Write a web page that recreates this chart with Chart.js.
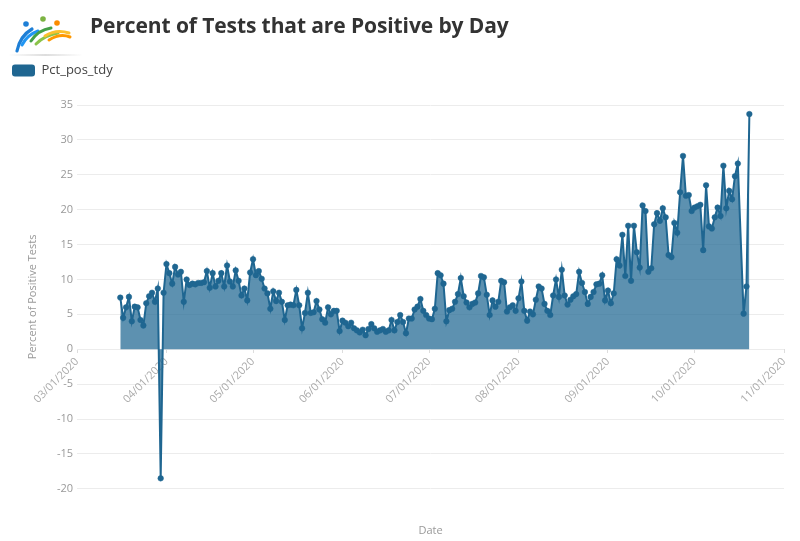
<!DOCTYPE html>
<html>
<head>
<meta charset="utf-8">
<script src="https://cdn.jsdelivr.net/npm/chart.js@4.4.1/dist/chart.umd.min.js"></script>
<style>
  html, body { margin: 0; padding: 0; background: #fff; }
  #wrap { position: relative; width: 800px; height: 541px; overflow: hidden; }
  canvas { position: absolute; left: 0; top: 0; }
  #logo { position: absolute; left: 0; top: 0; }
  #title { position: absolute; left: 90px; top: 11px; font-family: 'Open Sans', sans-serif; font-weight: 700;
           font-size: 21px; color: #333; white-space: nowrap; letter-spacing: -0.1px; }
</style>
</head>
<body>
<div id="wrap">
  <canvas id="c" width="800" height="541"></canvas>
  <svg id="logo" width="90" height="60" viewBox="0 0 90 60">
    <defs>
      <linearGradient id="sh" x1="0" x2="1" y1="0" y2="0">
        <stop offset="0" stop-color="#ddd" stop-opacity="0"/>
        <stop offset="0.5" stop-color="#ddd" stop-opacity="1"/>
        <stop offset="1" stop-color="#ddd" stop-opacity="0"/>
      </linearGradient>
    </defs>
    <path d="M17 51 Q20 36 32 29" stroke="#1e7fd6" stroke-width="3.2" fill="none" stroke-linecap="round"/>
    <path d="M22 45 Q27 35 38 31" stroke="#2196f3" stroke-width="3" fill="none" stroke-linecap="round"/>
    <circle cx="26" cy="24" r="2.8" fill="#1e7fd6"/>
    <path d="M31 41 Q38 30 51 28" stroke="#43a047" stroke-width="3" fill="none" stroke-linecap="round"/>
    <path d="M36 44 Q45 35 58 33" stroke="#8bc34a" stroke-width="3" fill="none" stroke-linecap="round"/>
    <circle cx="43" cy="19" r="2.8" fill="#7cb342"/>
    <path d="M45 36 Q56 29 69 33" stroke="#fbc02d" stroke-width="3" fill="none" stroke-linecap="round"/>
    <path d="M49 40 Q60 33 70 37" stroke="#ff9800" stroke-width="3" fill="none" stroke-linecap="round"/>
    <circle cx="57" cy="23" r="2.8" fill="#fb8c00"/>
    <rect x="8" y="54" width="75" height="2" fill="url(#sh)"/>
  </svg>
  <div id="title">Percent of Tests that are Positive by Day</div>
</div>
<script>
// ---- data ----
const seriesName = 'Pct_pos_tdy';
const axisTitleY = 'Percent of Positive Tests';
const axisTitleX = 'Date';
// first value is for 03/16/2020 (15 days after 03/01/2020); one value per day; null = no report
const firstDay = 15;
const pctPos = [
  7.4, 4.5, 6.0, 7.5, 4.0, 6.1, 6.0, 4.2, 3.4, 6.6, 7.6, 8.1, 6.8, 8.7, -18.5, 8.1,   // 03/16 - 03/31
  12.2, 10.9, 9.4, 11.8, 10.7, 11.1, 6.8, 10.0, 9.2, 9.4, 9.3, 9.5, 9.5, 9.6, 11.2,    // 04/01 - 04/15
  8.8, 10.9, 9.0, 9.8, 10.9, 9.0, 12.0, 9.7, 9.0, 11.3, 9.8, 7.7, 8.7, 7.0, 11.0,      // 04/16 - 04/30
  12.9, 10.6, 11.2, 10.1, 8.7, 8.0, 5.8, 8.3, 6.9, 8.1, 6.8, 4.2, 6.3, 6.4, 6.3, 8.5,  // 05/01 - 05/16
  6.3, 3.0, 5.2, 8.1, 5.2, 5.3, 6.9, 5.7, 4.3, 3.8, 6.0, 5.0, 5.5, 5.5, 2.6,           // 05/17 - 05/31
  4.1, 3.8, 3.3, 3.8, 3.0, 2.7, 2.4, 2.8, 2.0, 2.9, 3.6, 3.0, 2.5, 2.7, 2.9,           // 06/01 - 06/15
  2.5, 2.7, 4.2, 2.7, 3.9, 4.9, 3.9, 2.3, 4.4, 4.4, 5.7, 6.1, 7.2, 5.5, 4.9,           // 06/16 - 06/30
  4.4, 4.3, 5.8, 10.9, 10.6, 9.4, 4.0, 5.6, 5.8, 6.8, 7.9, 10.2, 7.6, 6.7, 6.0, 6.5,  // 07/01 - 07/16
  6.7, 8.0, 10.5, 10.3, 7.8, 4.9, 7.0, 6.1, 6.8, 9.8, 9.6, 5.4, 6.0, 6.3, 5.5,         // 07/17 - 07/31
  7.3, 9.7, 5.5, 4.1, 5.4, 5.0, 7.1, 9.0, 8.7, 6.5, 5.5, 4.9, 7.7, 10.0, 7.5, 11.4,    // 08/01 - 08/16
  7.7, 6.4, 7.1, 7.6, 7.9, 11.1, 9.5, 8.2, 6.5, 7.5, 8.2, 9.3, 9.4, 10.6, 7.0,         // 08/17 - 08/31
  8.4, 6.6, 8.0, 12.9, 12.0, 16.4, 10.5, 17.7, 9.8, 17.7, 13.9, 11.7, 20.6, 19.8, 11.1, // 09/01 - 09/15
  11.6, 17.9, 19.5, 18.4, 20.2, 18.9, 13.5, 13.2, 18.1, 16.7, 22.5, 27.7, 22.0, 22.1, 19.8, // 09/16 - 09/30
  20.3, 20.5, 20.7, 14.2, 23.5, 17.6, 17.3, 18.9, 20.3, 19.1, 26.3, 20.2, 22.7, 21.5, 24.8, 26.6, // 10/01 - 10/16
  null, 5.1, 9.0, 33.7                                                                  // 10/17 - 10/20
];
// x tick positions (days after 03/01/2020) and their labels
const monthTickDays = [0, 31, 61, 92, 122, 153, 184, 214, 245];
const monthTickLabels = ['03/01/2020', '04/01/2020', '05/01/2020', '06/01/2020', '07/01/2020',
                         '08/01/2020', '09/01/2020', '10/01/2020', '11/01/2020'];
const yMin = -20, yMax = 35, yStep = 5;

// ---- chart ----
const lineColor = '#1f6691';
const fillColor = 'rgba(31,102,145,0.72)';
const points = pctPos.map((v, i) => ({ x: firstDay + i, y: v })).filter(p => p.y !== null);

const legendSpace = {
  id: 'legendSpace',
  beforeInit(chart) {
    const origFit = chart.legend.fit;
    chart.legend.fit = function () { origFit.call(this); this.height += 18; };
  }
};

Chart.defaults.font.family = "'Open Sans', sans-serif";

new Chart(document.getElementById('c'), {
  type: 'line',
  data: {
    datasets: [{
      label: seriesName,
      data: points,
      borderColor: lineColor,
      backgroundColor: fillColor,
      fill: 'origin',
      borderWidth: 2,
      tension: 0,
      pointRadius: 2.8,
      pointBackgroundColor: lineColor,
      pointBorderColor: lineColor,
      pointBorderWidth: 0.5
    }]
  },
  options: {
    responsive: false,
    animation: false,
    layout: { padding: { top: 54, left: 2, right: 16, bottom: 0 } },
    plugins: {
      legend: {
        position: 'top',
        align: 'start',
        labels: {
          boxWidth: 23, boxHeight: 12, padding: 10, useBorderRadius: true, borderRadius: 3,
          color: '#444', font: { size: 13 },
          generateLabels(chart) {
            const items = Chart.defaults.plugins.legend.labels.generateLabels(chart);
            items.forEach(it => { it.fillStyle = lineColor; it.strokeStyle = lineColor; it.lineWidth = 0; });
            return items;
          }
        }
      },
      subtitle: {
        display: true, text: axisTitleX, position: 'bottom', fullSize: false,
        color: '#999', font: { size: 11, weight: 'normal' }, padding: { top: 35, bottom: 4 }
      },
      tooltip: { enabled: false }
    },
    scales: {
      x: {
        type: 'linear',
        min: monthTickDays[0],
        max: monthTickDays[monthTickDays.length - 1],
        position: { y: 0 },
        afterBuildTicks(scale) { scale.ticks = monthTickDays.map(v => ({ value: v })); },
        afterFit(scale) { scale.height = 0; },
        grid: { drawOnChartArea: false, drawTicks: true, tickLength: 4, color: '#ddd' },
        border: { display: false },
        ticks: {
          autoSkip: false, maxRotation: 45, minRotation: 45, color: '#aaa', font: { size: 11 }, padding: 2,
          callback(v) { const i = monthTickDays.indexOf(v); return i >= 0 ? monthTickLabels[i] : ''; }
        }
      },
      y: {
        min: yMin, max: yMax,
        afterFit(scale) { scale.width = 75; },
        grid: { color: '#ececec', drawTicks: false },
        border: { display: false },
        ticks: { stepSize: yStep, color: '#999', font: { size: 11 }, padding: 4 },
        title: { display: true, text: axisTitleY, color: '#999', font: { size: 11 }, padding: { top: 24, bottom: 0 } }
      }
    }
  },
  plugins: [legendSpace]
});
</script>
</body>
</html>
